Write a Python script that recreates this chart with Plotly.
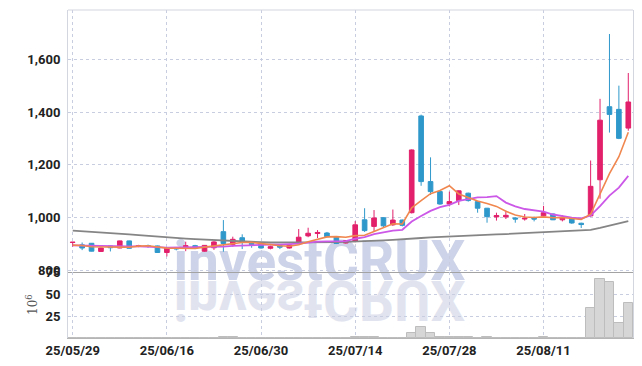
import plotly.graph_objects as go

dates = ["25/05/29","25/05/30","25/06/02","25/06/04","25/06/05","25/06/09","25/06/10","25/06/11","25/06/12","25/06/13",
         "25/06/16","25/06/17","25/06/18","25/06/19","25/06/20","25/06/23","25/06/24","25/06/25","25/06/26","25/06/27",
         "25/06/30","25/07/01","25/07/02","25/07/03","25/07/04","25/07/07","25/07/08","25/07/09","25/07/10","25/07/11",
         "25/07/14","25/07/15","25/07/16","25/07/17","25/07/18","25/07/21","25/07/22","25/07/23","25/07/24","25/07/25",
         "25/07/28","25/07/29","25/07/30","25/07/31","25/08/01","25/08/04","25/08/05","25/08/06","25/08/07","25/08/08",
         "25/08/11","25/08/12","25/08/13","25/08/14","25/08/18","25/08/19","25/08/20","25/08/21","25/08/22","25/08/25"]

opens = [905, 896, 902, 871, 892, 884, 911, 890, 893, 892,
         867, 884, 884, 893, 872, 885, 946, 898, 923, 902,
         900, 883, 893, 884, 902, 930, 939, 941, 926, 903,
         910, 991, 966, 999, 972, 990, 1018, 1385, 1136, 1098,
         1051, 1064, 1092, 1060, 1035, 1002, 1002, 998, 994, 997,
         1006, 1013, 991, 998, 978, 1006, 1143, 1420, 1410, 1339]
highs = [907, 905, 903, 885, 893, 912, 912, 896, 897, 893,
         886, 887, 908, 896, 895, 910, 990, 927, 936, 908,
         902, 893, 896, 898, 956, 961, 952, 945, 928, 914,
         986, 1035, 1028, 1001, 1030, 992, 1258, 1390, 1228, 1100,
         1098, 1103, 1094, 1062, 1036, 1018, 1026, 1001, 1013, 1003,
         1044, 1015, 1008, 1000, 980, 1216, 1450, 1696, 1500, 1548]
lows = [889, 876, 871, 870, 871, 883, 882, 887, 885, 866,
        852, 875, 872, 880, 870, 877, 870, 889, 880, 885,
        882, 879, 880, 882, 900, 925, 922, 924, 899, 901,
        906, 945, 948, 962, 968, 966, 1015, 1120, 1085, 1048,
        1042, 1047, 1060, 1018, 980, 988, 994, 980, 988, 985,
        1004, 990, 985, 976, 960, 1003, 1071, 1322, 1297, 1329]
closes = [906, 884, 872, 884, 885, 911, 883, 893, 890, 867,
          885, 881, 893, 884, 894, 907, 901, 917, 906, 897,
          884, 889, 887, 896, 925, 940, 943, 927, 901, 912,
          972, 950, 998, 968, 990, 970, 1256, 1136, 1098, 1051,
          1060, 1101, 1064, 1035, 1003, 1007, 1008, 994, 997, 994,
          1018, 991, 1000, 979, 973, 1118, 1369, 1391, 1300, 1438]
# closes before the first visible day (estimated from the start level of the averages)
prior_closes = [892, 895, 890, 893, 896, 891, 894, 890, 893]

# 60-day average
ma60 = [950, 948, 946, 944, 941, 939, 936, 933, 930, 927,
        925, 922, 920, 918, 916, 914, 912, 910, 909, 907,
        906, 905, 905, 904, 904, 904, 905, 905, 906, 907,
        908, 909, 911, 913, 915, 918, 920, 922, 924, 926,
        928, 930, 931, 933, 934, 936, 937, 939, 940, 942,
        943, 945, 946, 948, 950, 953, 960, 968, 977, 986]

# volume in millions
volumes = [0.4, 0.3, 0.3, 0.2, 0.3, 0.4, 0.3, 0.2, 0.2, 0.3,
           0.4, 0.2, 0.3, 0.2, 0.3, 0.4, 1.6, 0.6, 0.5, 0.3,
           0.3, 0.2, 0.2, 0.2, 0.5, 0.5, 0.4, 0.3, 0.3, 0.2,
           0.8, 0.7, 1.4, 0.5, 0.5, 0.4, 6.1, 12.8, 6.1, 1.5,
           1.3, 1.3, 0.7, 0.5, 0.6, 0.4, 0.4, 0.3, 0.3, 0.3,
           1.3, 0.5, 0.4, 0.4, 0.4, 34.0, 68.5, 64.0, 17.6, 40.5]

price_ticks = [800, 1000, 1200, 1400, 1600]
volume_ticks = [25, 50, 75]
x_ticks = dates[0::10]


def moving_average(values, prior, n):
    full = list(prior) + list(values)
    off = len(prior)
    out = []
    for i in range(len(values)):
        j = i + off
        window = full[max(0, j - n + 1): j + 1]
        out.append(sum(window) / len(window))
    return out


ma5 = moving_average(closes, prior_closes, 5)
ma10 = moving_average(closes, prior_closes, 10)

UP = "#e2206b"
DOWN = "#2f98cb"
TICKFONT = dict(family="Roboto, sans-serif", size=13, color="#222222", weight="bold")
GRID = "#c9cde0"

fig = go.Figure()

fig.add_trace(go.Candlestick(
    x=dates, open=opens, high=highs, low=lows, close=closes,
    increasing=dict(line=dict(color=UP, width=1), fillcolor=UP),
    decreasing=dict(line=dict(color=DOWN, width=1), fillcolor=DOWN),
    xaxis="x", yaxis="y", showlegend=False, whiskerwidth=0,
))
fig.add_trace(go.Scatter(x=dates, y=ma60, mode="lines", line=dict(color="#858585", width=1.8),
                         xaxis="x", yaxis="y", showlegend=False))
fig.add_trace(go.Scatter(x=dates, y=ma10, mode="lines", line=dict(color="#cc58e8", width=1.8),
                         xaxis="x", yaxis="y", showlegend=False))
fig.add_trace(go.Scatter(x=dates, y=ma5, mode="lines", line=dict(color="#f0874f", width=1.6),
                         xaxis="x", yaxis="y", showlegend=False))
fig.add_trace(go.Bar(x=dates, y=volumes, marker=dict(color="#d6d6d6", line=dict(color="#bdbdbd", width=1)),
                     xaxis="x2", yaxis="y2", showlegend=False))

split = 66 / 328
wm_mid = 0.247
wm_font = dict(family="Roboto, sans-serif", size=55, weight="bold")

fig.update_layout(
    width=642, height=366,
    margin=dict(l=68, r=9, t=10, b=28, autoexpand=False),
    paper_bgcolor="white", plot_bgcolor="white",
    showlegend=False, bargap=0, boxgap=0.3,
    xaxis=dict(type="category", domain=[0, 1], anchor="y", range=[-0.5, 59.5], automargin=False,
               rangeslider=dict(visible=False), showticklabels=False,
               tickmode="array", tickvals=x_ticks, ticks="",
               showgrid=True, gridcolor=GRID, griddash="dot", gridwidth=1,
               showline=True, linecolor="#a3a3a3", linewidth=1, zeroline=False),
    yaxis=dict(domain=[split, 1], anchor="x", range=[793, 1787], automargin=False,
               tickmode="array", tickvals=price_ticks, tickformat=",d", ticks="",
               tickfont=TICKFONT, ticklabelstandoff=4,
               showgrid=True, gridcolor=GRID, griddash="dot", gridwidth=1,
               showline=True, mirror=True, linecolor="#d3d5df", linewidth=1, zeroline=False),
    xaxis2=dict(type="category", domain=[0, 1], anchor="y2", matches="x", range=[-0.5, 59.5],
                automargin=False, tickmode="array", tickvals=x_ticks, ticks="", tickfont=TICKFONT,
                showgrid=True, gridcolor=GRID, griddash="dot", gridwidth=1,
                showline=True, linecolor="#b5b5b5", linewidth=1, zeroline=False),
    yaxis2=dict(domain=[0, split], anchor="x2", range=[0, 76], automargin=False,
                tickmode="array", tickvals=volume_ticks, ticks="",
                tickfont=TICKFONT, ticklabelstandoff=4,
                showgrid=True, gridcolor=GRID, griddash="dot", gridwidth=1,
                showline=True, mirror=True, linecolor="#d3d5df", linewidth=1, zeroline=False),
    annotations=[dict(text="10<sup>6</sup>", xref="paper", yref="paper",
                      x=-36 / 565, y=split / 2, xanchor="center", yanchor="middle",
                      textangle=-90, showarrow=False,
                      font=dict(family="DejaVu Serif, serif", size=12, color="#555555"))],
    shapes=[
        dict(type="line", xref="paper", yref="paper", x0=0, x1=1, y0=1, y1=1,
             line=dict(color="#d3d5df", width=1)),
        dict(type="rect", xref="paper", yref="paper", x0=0.19, x1=0.70, y0=wm_mid - 0.07, y1=wm_mid + 0.07,
             line=dict(width=0), fillcolor="rgba(0,0,0,0)", layer="below",
             label=dict(text="investCRUX", textposition="middle center",
                        font=dict(wm_font, color="#cdd3e8"))),
        dict(type="rect", xref="paper", yref="paper", x0=0.19, x1=0.70, y0=wm_mid - 0.07, y1=wm_mid + 0.07,
             line=dict(width=0), fillcolor="rgba(0,0,0,0)", layer="below",
             label=dict(text="investCRUX", textposition="middle center",
                        font=dict(wm_font, color="#e1e4ef"))),
    ],
)

post_js = """
document.body.style.margin = '0';
document.body.style.padding = '0';
var gd = document.getElementById('{plot_id}');
var labs = gd.querySelectorAll('g.shape-label');
if (labs.length >= 2) {
  var mainText = labs[0].querySelector('text');
  var refl = labs[labs.length - 1];
  var bb = mainText.getBBox();
  var m = bb.y + bb.height * 0.792 + 1;
  refl.setAttribute('transform', 'translate(0,' + (2 * m) + ') scale(1,-1)');
}
"""

fig.write_html("out.html", post_script=post_js, config={"displayModeBar": False})
